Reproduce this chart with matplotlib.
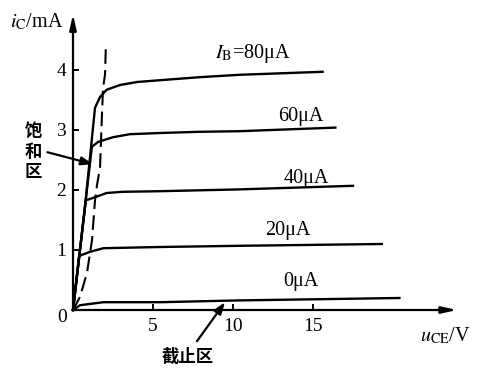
import matplotlib.pyplot as plt

plt.rcParams['font.family'] = ['Liberation Serif', 'DejaVu Serif']
plt.rcParams['mathtext.fontset'] = 'stix'

# output characteristics (u_CE in V, i_C in mA)
u_80 = [0, 0.75, 1.375, 1.69, 2.1, 2.94, 4.0, 5.44, 7.9, 10.4, 15.6]
i_80 = [0, 1.72, 3.37, 3.55, 3.67, 3.75, 3.80, 3.83, 3.88, 3.92, 3.97]
u_60 = [0, 1.18, 1.56, 2.5, 3.56, 5.44, 7.9, 10.4, 16.4]
i_60 = [0, 2.72, 2.80, 2.88, 2.93, 2.95, 2.97, 2.98, 3.04]
u_40 = [0, 0.8, 0.94, 1.375, 2.1, 3.1, 5.44, 10.4, 17.5]
i_40 = [0, 1.83, 1.84, 1.88, 1.95, 1.97, 1.98, 2.01, 2.07]
u_20 = [0, 0.38, 1.06, 1.9, 5.44, 10.4, 19.3]
i_20 = [0, 0.9, 0.97, 1.03, 1.05, 1.07, 1.10]
u_0 = [0, 0.44, 1.9, 5.44, 10.4, 20.4]
i_0 = [0, 0.08, 0.13, 0.13, 0.16, 0.20]

# boundary of saturation (dashed)
u_sat = [0, 0.44, 0.875, 1.19, 1.375, 1.5, 1.69, 1.81, 1.875, 2.0, 2.06]
i_sat = [0, 0.22, 0.62, 1.17, 1.83, 2.08, 2.38, 3.25, 3.7, 3.92, 4.45]

curve_u = [u_80, u_60, u_40, u_20, u_0]
curve_i = [i_80, i_60, i_40, i_20, i_0]
ib_labels = ['$I_{\\rm B}$=80μA', '60μA', '40μA', '20μA', '0μA']
label_pos = [(11.25, 4.27), (14.25, 3.22), (14.6, 2.2), (13.4, 1.32), (14.25, 0.47)]

xticks = [5, 10, 15]
yticks = [1, 2, 3, 4]

fig = plt.figure(figsize=(4.78, 3.68), dpi=100)
ax = fig.add_axes([0, 0, 1, 1])
ax.set_xlim(-73 / 16, (478 - 73) / 16)
ax.set_ylim(-(368 - 310) / 60, 310 / 60)
ax.patch.set_visible(False)

for s in ['top', 'right']:
    ax.spines[s].set_visible(False)
ax.spines['left'].set_position(('data', 0))
ax.spines['bottom'].set_position(('data', 0))
ax.spines['left'].set_bounds(0, 4.7)
ax.spines['bottom'].set_bounds(0, 23.3)
ax.spines['left'].set_linewidth(1.6)
ax.spines['bottom'].set_linewidth(1.6)

# arrow heads on the axes
ax.annotate('', xy=(24.0, 0), xytext=(23.0, 0),
            arrowprops=dict(arrowstyle='-|>,head_length=0.9,head_width=0.2',
                            color='k', lw=1.6, shrinkA=0, shrinkB=0))
ax.annotate('', xy=(0, 4.93), xytext=(0, 4.6),
            arrowprops=dict(arrowstyle='-|>,head_length=0.9,head_width=0.2',
                            color='k', lw=1.6, shrinkA=0, shrinkB=0))

ax.set_xticks(xticks)
ax.set_yticks(yticks)
ax.tick_params(direction='in', length=4, width=1.4, labelsize=14)
ax.tick_params(axis='y', pad=5)
ax.tick_params(axis='x', pad=6)
ax.text(-0.7, -0.13, '0', fontsize=14, ha='center', va='center')

for u, i in zip(curve_u, curve_i):
    ax.plot(u, i, color='k', lw=1.7, solid_joinstyle='round')
ax.plot(u_sat, i_sat, color='k', lw=1.5, dashes=(7, 3))

for lab, (x, y) in zip(ib_labels, label_pos):
    ax.text(x, y, lab, fontsize=14.5, ha='center', va='center')

ax.text(-2.25, 4.8, '$i_{\\rm C}$/mA', fontsize=14.5, ha='center', va='center')
ax.text(23.3, -0.43, '$u_{\\rm CE}$/V', fontsize=14.5, ha='center', va='center')

cjk = ['Noto Sans CJK SC', 'DejaVu Sans']
ax.text(-2.5, 2.63, '饱\n和\n区', family=cjk, fontsize=12.5, fontweight='bold',
        ha='center', va='center', linespacing=1.15)
ax.annotate('', xy=(1.25, 2.43), xytext=(-1.6, 2.63),
            arrowprops=dict(arrowstyle='-|>,head_length=0.7,head_width=0.25',
                            color='k', lw=1.6, shrinkA=0, shrinkB=0))
ax.text(7.2, -0.78, '截止区', family=cjk, fontsize=12.5, fontweight='bold',
        ha='center', va='center')
ax.annotate('', xy=(9.5, 0.13), xytext=(7.75, -0.52),
            arrowprops=dict(arrowstyle='-|>,head_length=0.7,head_width=0.25',
                            color='k', lw=1.6, shrinkA=0, shrinkB=0))

fig.savefig('out.png', dpi=100)
